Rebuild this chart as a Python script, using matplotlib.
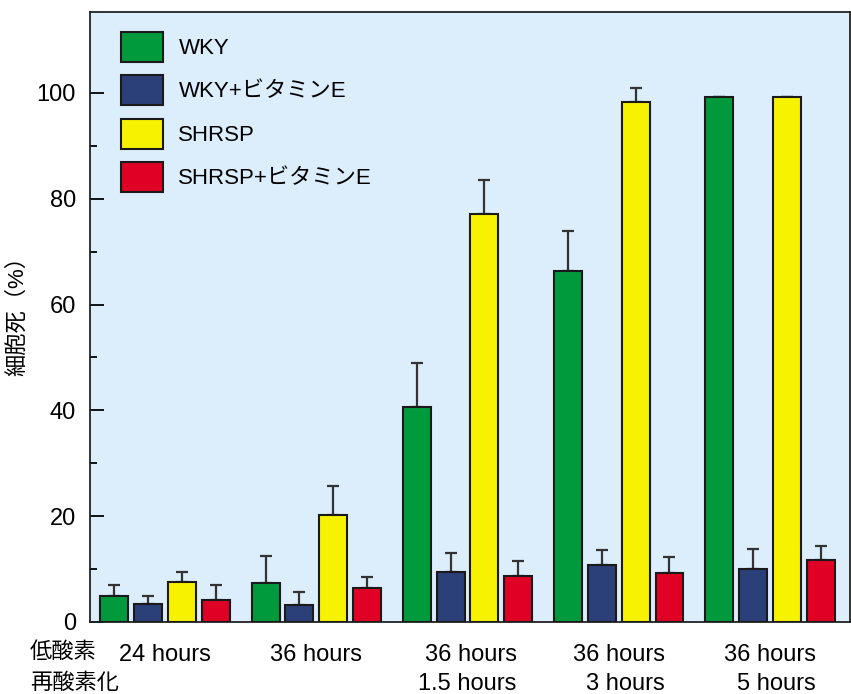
import matplotlib
matplotlib.use("Agg")
import matplotlib.pyplot as plt
import numpy as np
from matplotlib.patches import Patch

plt.rcParams['font.family'] = ['Liberation Sans', 'Noto Sans CJK JP', 'DejaVu Sans']

groups = ["24 hours", "36 hours", "36 hours\n1.5 hours", "36 hours\n3 hours", "36 hours\n5 hours"]
series = ["WKY", "WKY+ビタミンE", "SHRSP", "SHRSP+ビタミンE"]
colors = ["#009a3d", "#2b4078", "#f7f300", "#e00025"]

wky = [4.9, 7.4, 40.6, 66.3, 99.3]
wky_e = [3.4, 3.3, 9.4, 10.7, 10.0]
shrsp = [7.5, 20.2, 77.2, 98.2, 99.3]
shrsp_e = [4.1, 6.4, 8.7, 9.2, 11.7]

wky_err = [2.0, 5.1, 8.4, 7.6, 0]
wky_e_err = [1.6, 2.3, 3.6, 3.0, 3.8]
shrsp_err = [1.9, 5.5, 6.4, 2.8, 0]
shrsp_e_err = [2.8, 2.2, 2.8, 3.0, 2.7]

values = [wky, wky_e, shrsp, shrsp_e]
errors = [wky_err, wky_e_err, shrsp_err, shrsp_e_err]

fig = plt.figure(figsize=(8.51, 6.94), dpi=100)
ax = fig.add_axes([90/851, 1-622/694, 760/851, 610/694])
ax.set_facecolor("#dcedfb")

x = np.arange(len(groups))
width = 0.185
offs = [-1.5, -0.5, 0.5, 1.5]
step = 0.224
for vals, errs, col, off, lab in zip(values, errors, colors, offs, series):
    ax.bar(x + off*step, vals, width, color=col, edgecolor="#1a1a1a", linewidth=1.5, label=lab, zorder=3)
    e = np.array(errs)
    ax.errorbar(x + off*step, vals, yerr=[np.zeros_like(e), e], fmt='none', ecolor="#333333",
                elinewidth=1.6, capsize=4, capthick=1.6, zorder=2)

ax.set_xlim(-0.497, 4.53)
ax.set_ylim(0, 115.3)
ax.set_yticks([0, 20, 40, 60, 80, 100])
ax.set_yticks([10, 30, 50, 70, 90], minor=True)
ax.tick_params(axis='y', which='major', direction='in', length=10, width=1.3, labelsize=17, pad=10)
ax.tick_params(axis='y', which='minor', direction='in', length=5, width=1.3)
ax.set_xticks(x)
ax.set_xticklabels(groups, fontsize=17, multialignment='right', linespacing=1.42)
ax.tick_params(axis='x', length=0, pad=16)
for s in ax.spines.values():
    s.set_linewidth(1.3)
    s.set_color("#222222")

ax.set_ylabel("細胞死（%）", fontsize=16)
ax.yaxis.set_label_coords(-0.082, 0.511)

fig.text(30/851, 1-652/694, "低酸素", fontsize=16, va='center', ha='left')
fig.text(30/851, 1-683/694, "再酸素化", fontsize=16, va='center', ha='left')

handles = [Patch(facecolor=c, edgecolor="#1a1a1a", linewidth=1.5) for c in colors]
ax.legend(handles, series, loc='upper left', bbox_to_anchor=(0.014, 1.0), frameon=False,
          fontsize=16, handlelength=1.9, handleheight=1.7, labelspacing=0.6, handletextpad=0.7)

fig.savefig("out.png", dpi=100)
